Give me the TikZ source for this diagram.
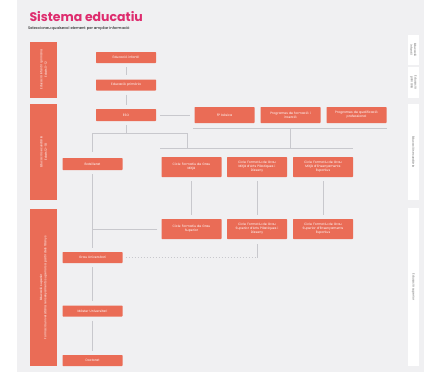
\documentclass[tikz,border=0pt]{standalone}
\usepackage{fontspec}
\setmainfont{Poppins}
\definecolor{coral}{RGB}{234,108,86}
\definecolor{panelgrey}{RGB}{240,240,242}
\definecolor{linegrey}{RGB}{200,200,205}
\definecolor{titlepink}{RGB}{222,44,110}

\begin{document}
\begin{tikzpicture}[
x=1pt, y=-1pt,
stage/.style = {
	fill=coral,
	text=white,
	rounded corners=0.6pt,
	minimum width=60pt,
	minimum height=11pt,
	text width=57pt,
	inner sep=0.5pt,
	align=center,
	font=\fontsize{3.2}{3.9}\selectfont
	},
band/.style = {
	fill=coral,
	text=white,
	rotate=90,
	inner sep=0pt,
	align=center,
	font=\fontsize{3}{4.4}\selectfont
	},
tag/.style = {
	fill=white,
	text=black!60,
	rotate=-90,
	inner sep=0pt,
	align=center,
	font=\fontsize{3}{3.8}\selectfont
	},
link/.style = {
	draw=linegrey,
	line width=0.6pt,
	shorten <=4pt,
	shorten >=4pt
	},
bus/.style = {
	draw=linegrey,
	line width=0.6pt
	}
]

\useasboundingbox (0,0) rectangle (428,372);
\fill [white] (0,0) rectangle (428,372);
\fill [panelgrey] (17,0) rectangle (424,372);

\node [anchor=west, text=titlepink, font=\fontsize{12.5}{13}\selectfont\bfseries] (title) at (26,17) {Sistema educatiu};
\node [anchor=west, font=\fontsize{3.7}{4}\selectfont, inner sep=0pt] (subtitle) at (28,29) {Seleccioneu qualsevol element per ampliar informació};

% LEFT BANDS
\node [band, minimum width=56pt, minimum height=27pt] (bandA) at (43.5,69.5) {Educació infantil i primària\\Edats 0-12};
\node [band, minimum width=96pt, minimum height=27pt] (bandB) at (43.5,152) {Educació secundària\\Edats 12-18};
\node [band, minimum width=157pt, minimum height=27pt] (bandC) at (43.5,287.5) {Educació superior\\Formació universitària i ensenyaments superiors a partir dels 18 anys};

% RIGHT TAGS
\node [tag, minimum width=30pt, minimum height=11pt] (tagA) at (413.5,50) {Educació\\infantil};
\node [tag, minimum width=31pt, minimum height=11pt] (tagB) at (413.5,82.5) {Educació\\primària};
\node [tag, minimum width=96pt, minimum height=11pt] (tagC) at (413.5,152) {Educació secundària};
\node [tag, minimum width=158pt, minimum height=11pt] (tagD) at (413.5,287) {Educació superior};

% MAIN COLUMN
\node [stage] (infantil) at (126,57.5) {Educació infantil};
\node [stage] (primaria) at (126,85) {Educació primària};
\node [stage, minimum height=12pt] (eso) at (126,115) {ESO};
\node [stage, minimum height=12pt] (batx) at (92.5,164) {Batxillerat};
\node [stage] (grau) at (92.5,257.5) {Grau Universitari};
\node [stage] (master) at (92.5,311) {Màster Universitari};
\node [stage] (doctorat) at (92.5,360.5) {Doctorat};

% FP NODES
\node [stage, minimum height=16pt] (fpb) at (224.5,115) {FP bàsica};
\node [stage, minimum height=16pt] (pfi) at (290.5,115) {Programes de formació i\\inserció};
\node [stage, minimum height=16pt] (pqp) at (356.5,115) {Programes de qualificació\\professional};

\node [stage, minimum height=20pt] (cfgm) at (191.5,167) {Cicle Formatiu de Grau\\Mitjà};
\node [stage, minimum height=20pt] (cfgmArts) at (257,167) {Cicle Formatiu de Grau\\Mitjà d'Arts Plàstiques i\\Disseny};
\node [stage, minimum height=20pt] (cfgmEsp) at (323,167) {Cicle Formatiu de Grau\\Mitjà d'Ensenyaments\\Esportius};

\node [stage, minimum height=20pt] (cfgs) at (191.5,229) {Cicle Formatiu de Grau\\Superior};
\node [stage, minimum height=20pt] (cfgsArts) at (257,229) {Cicle Formatiu de Grau\\Superior d'Arts Plàstiques i\\Disseny};
\node [stage, minimum height=20pt] (cfgsEsp) at (323,229) {Cicle Formatiu de Grau\\Superior d'Ensenyaments\\Esportius};

% BUS POINTS
\coordinate (esoBus) at (126,133);
\coordinate (busL) at (92.5,133);
\coordinate (busR) at (187,133);
\coordinate (midBus) at (187,148);
\coordinate (cfBusL) at (160,148);
\coordinate (cfBusR) at (353,148);
\coordinate (fpBusL) at (193,128);
\coordinate (fpBusR) at (387,128);
\coordinate (fpDrop) at (290,128);
\coordinate (fpLand) at (290,148);
\coordinate (dashTurn) at (257,257.5);

% PATHS
\path [link] (infantil) edge (primaria) (primaria) edge (eso) (eso) edge (fpb);
\draw [bus, shorten <=4pt] (eso) -- (esoBus);
\draw [bus] (busL) -- (busR) -- (midBus);
\draw [bus, shorten >=6pt] (busL) -- (batx);
\draw [bus] (cfBusL) -- (cfBusR);
\draw [bus] (fpBusL) -- (fpBusR);
\draw [bus] (fpDrop) -- (fpLand);
\path [link] (cfgm) edge (cfgs) (cfgmArts) edge (cfgsArts) (cfgmEsp) edge (cfgsEsp);
\path [link] (batx) edge (grau) (grau) edge (master) (master) edge (doctorat);
\draw [bus, shorten <=4pt] (cfgs.west) -- (cfgs.west -| batx);
\draw [bus, dashed, dash pattern=on 1.5pt off 1.5pt, shorten <=3pt] (grau.east) -- (dashTurn);
\draw [bus, shorten >=5pt] (dashTurn) -- (cfgsArts);
\end{tikzpicture}
\end{document}
